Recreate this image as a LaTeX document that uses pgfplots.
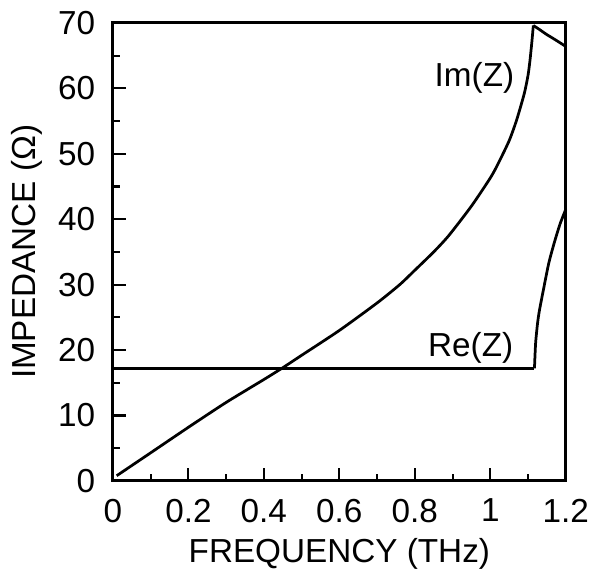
\documentclass[border=0pt]{standalone}
\usepackage{fontspec}
\setmainfont{Liberation Sans}
\usepackage{pgfplots}
\pgfplotsset{compat=1.18}

\begin{document}
\fontsize{25.5}{30}\selectfont
\begin{tikzpicture}
\begin{axis}[
    scale only axis,
    width=347pt, height=351pt,
    xmin=0, xmax=1.2, ymin=0, ymax=70,
    xtick={0,0.2,...,1.2},
    xticklabels={0,0.2,0.4,0.6,0.8,1,1.2},
    ytick={0,10,...,70},
    minor x tick num=1, minor y tick num=1,
    xtick pos=left, ytick pos=left,
    tick align=inside,
    major tick length=10pt, minor tick length=5.5pt,
    every tick/.style={black, line width=1.6pt},
    axis line style={line width=2.3pt},
    /pgf/number format/assume math mode=true,
    tick label style={font=\fontsize{25.5}{30}\selectfont},
    yticklabel style={xshift=-5pt},
    xticklabel style={yshift=-5pt},
    label style={font=\fontsize{25.5}{30}\selectfont},
    xlabel={FREQUENCY (THz)},
    ylabel={IMPEDANCE (Ω)},
    xlabel style={yshift=5pt},
    ylabel style={yshift=-5pt},
    clip=false,
]
% Im(Z)
\addplot[black, line width=2.1pt, smooth, tension=0.4] coordinates {
    (0.01,0.8) (0.1,4.3) (0.2,8.2) (0.3,12.0) (0.4,15.5) (0.45,17.3)
    (0.5,19.2) (0.6,23.0) (0.7,27.2) (0.76,30.0) (0.8,32.2) (0.85,35.0)
    (0.89,37.5) (0.95,42.0) (1.0,46.3) (1.02,48.4) (1.05,52.0)
    (1.07,55.2) (1.09,59.2) (1.10,62.0) (1.105,64.2) (1.11,67.0) (1.114,69.6)
};
\addplot[black, line width=2.1pt, smooth, tension=0.4] coordinates {
    (1.114,69.6) (1.13,69.0) (1.15,68.2) (1.17,67.5) (1.2,66.4)
};
% Re(Z)
\addplot[black, line width=2.1pt] coordinates {
    (0,17.2) (1.117,17.2)
};
\addplot[black, line width=2.1pt, smooth, tension=0.4] coordinates {
    (1.117,17.2) (1.12,21.0) (1.125,24.0) (1.13,26.0) (1.14,29.0)
    (1.155,33.3) (1.17,36.5) (1.185,39.3) (1.2,41.5)
};
\node[font=\fontsize{25.5}{30}\selectfont] at (axis cs:0.958,61.6) {Im(Z)};
\node[font=\fontsize{25.5}{30}\selectfont] at (axis cs:0.948,20.3) {Re(Z)};
\end{axis}
\end{tikzpicture}
\end{document}
